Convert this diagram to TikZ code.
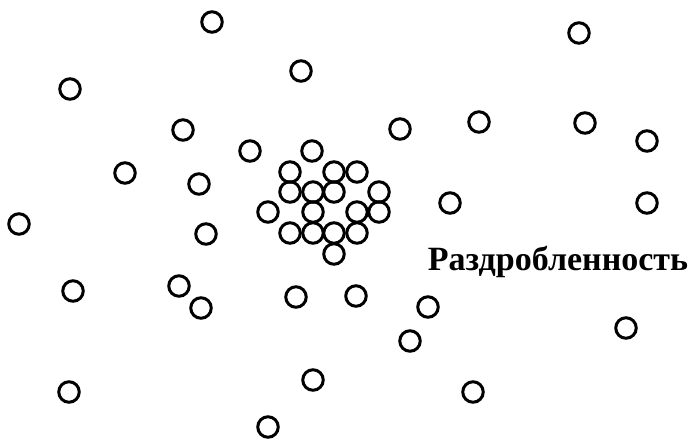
\documentclass[tikz,border=0pt]{standalone}
\usepackage{fontspec}
\setmainfont{Liberation Serif}
\begin{document}
\begin{tikzpicture}[x=1pt,y=-1pt,
  ring/.style={circle,draw=black,line width=3pt,minimum size=20.5pt,inner sep=0pt},
  label/.style={font=\fontsize{34}{38}\selectfont\bfseries,inner sep=0pt,anchor=base}]
\useasboundingbox (0,0) rectangle (690,440);
% scattered circles
\foreach \n/\x/\y in {a1/212/22,a2/301/71,a3/70/89,a4/183/130,a5/250/151,a6/125/173,a7/199/184,
  a8/19/224,a9/206/234,a10/73/291,a11/179/286,a12/201/308,a13/296/297,a14/356/296,
  a15/69/392,a16/313/380,a17/268/427,a18/579/33,a19/400/129,a20/479/122,a21/585/123,
  a22/647/141,a23/450/203,a24/647/203,a25/428/307,a26/410/341,a27/626/328,a28/473/392}
  \node[ring] (\n) at (\x,\y) {};
% cluster
\foreach \n/\x/\y in {b1/312/151,b2/290/172,b3/334/172,b4/357/172,b5/290/192,b6/313/192,
  b7/334/192,b8/379/192,b9/268/212,b10/313/212,b11/357/212,b12/379/212,b13/290/233,
  b14/313/233,b15/334/233,b16/357/233,b17/334/254}
  \node[ring] (\n) at (\x,\y) {};
\node[label] (t) at (558,270) {Раздробленность};
\end{tikzpicture}
\end{document}
